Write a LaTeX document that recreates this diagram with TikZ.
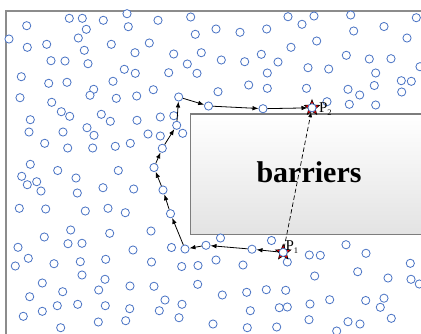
\documentclass[tikz,border=0pt]{standalone}
\usepackage{fontspec}
\setmainfont{Liberation Serif}
\usetikzlibrary{shapes.geometric,arrows.meta}
\definecolor{ptblue}{RGB}{72,114,196}
\definecolor{framegray}{RGB}{140,140,140}
\definecolor{wallgray}{RGB}{125,125,125}
\tikzset{
  pt/.style={circle, draw=ptblue, fill=white, line width=0.8pt, minimum size=8.2pt, inner sep=0pt},
  mark star/.style={star, star points=5, star point ratio=2.3, draw=black, fill=red, line width=0.6pt, minimum size=16pt, inner sep=0pt},
  hop/.style={-{Latex[length=6pt,width=4.6pt]}, line width=0.8pt, black},
  chord/.style={-{Latex[length=5pt,width=4pt]}, line width=0.7pt, black, dash pattern=on 4.5pt off 2.5pt},
  plabel/.style={inner sep=0pt, font=\fontsize{15}{15}\selectfont}
}
\begin{document}
\begin{tikzpicture}[x=1pt,y=-1pt]
\useasboundingbox (0,0) rectangle (421,333);
\fill[white] (0,0) rectangle (421,333);
% outer frame
\draw[framegray, line width=1.4pt] (6,340) -- (6,11) -- (430,11);
% obstacle block
\shade[top color=white, bottom color=black!11] (190.5,114) rectangle (430,234.5);
\draw[wallgray, line width=1.7pt] (430,114) -- (190.5,114) -- (190.5,234.5) -- (430,234.5);
\node[font=\bfseries\fontsize{30}{30}\selectfont, anchor=base, inner sep=0pt] (wall) at (309,182) {barriers};
% scattered sensor nodes
\foreach \x/\y [count=\i] in {
26.7/25.7, 69.3/18.3, 82.3/18.3, 103.3/20.3, 127/13.7, 158/20.3, 190.7/17, 86.3/29.3,
128.3/26.7, 195.3/34.3, 9/39, 27.3/47.3, 46.7/44.3, 78.3/38, 84.3/50.3, 111.3/44.3,
149.3/43, 135/52.7, 173.7/54, 201.3/52.7, 51/60.7, 65/61, 88/63.7, 124.3/69.3,
135.3/73.3, 168.7/72.7, 187.3/64, 197/73.3, 21.3/76.7, 48.7/83.3, 67/82.3, 113/81.3,
93.7/89.3, 90/95.3, 153.3/89.7, 20/97.7, 51.7/102.3, 116.3/98.3, 136.7/96, 61.3/111.7,
69.7/116.3, 101.3/114.3, 110.3/121.3, 30.3/119.7, 137/120.3, 160.3/117, 173.8/115.7, 182.7/133.3,
29/132, 63/132, 87/127.7, 94/135.3, 148/134, 160.3/136, 44.7/143.3, 67.7/148,
92.7/148, 115.3/146.3, 130.3/143.3, 30.3/164.3,
57.7/170.5, 118.3/170.5, 21.7/176.3, 36.7/181.7, 27.3/184.7, 41/191, 76/178, 77.3/193,
103/187.7, 133.7/189, 19.3/208.3, 45.7/209, 85.3/211, 108/208.3, 125.3/212.7, 70.7/230,
44.3/237, 68/243.7, 82/243.3, 109.7/233.3, 151/231, 18/247.3, 171.5/247.5, 133/250,
28.3/258.3, 15.3/266, 54/263.7, 80.3/261.7, 105.7/259.3, 151.5/262, 181.7/266.5, 198/265.5,
82/275, 42.3/283, 105/279.3, 197.7/284.3, 62.7/291.7, 98.7/290, 130/286, 154/286.3,
29.7/296.7, 165/300, 57.3/305.7, 77.7/304.3, 105.3/305.7, 42.3/311.3, 129.7/308.7, 159.3/310.7,
182/304.3, 23.3/316.3, 179/317.7, 98.3/322, 125.7/320.7, 60.7/327.7,
216/29, 240/32.3, 266.7/29, 288/16.7, 302/24.3, 314/16, 350.7/15, 353.7/31,
384/26.5, 416.3/17.7, 407/38, 316.7/41, 291/47.3, 221.3/60, 244.7/61.7, 261.3/54.3,
278/62, 267.3/73, 308/67.7, 328.7/69, 346.3/55.3, 369.3/59, 391/58.7, 375.7/73,
420/66.7, 218/91.7, 248.7/85, 267.3/88.3, 306.5/88.3, 348/89.3, 359.7/95, 374.3/85.5,
401.3/80.7, 411.3/81.3, 401.7/92, 327/101.7, 349.3/104.3, 375.7/105,
220.5/238, 216/260, 271.5/240.5, 287.3/262, 243/265, 309.3/255, 320.3/255.3, 346/244.7,
366/253.3, 410.3/263.3, 411/279.3, 419.3/284, 314.7/276, 357.7/271.7, 388/278, 222.3/295,
246.7/292.3, 266.3/289.7, 285.7/290.3, 250.3/310.7, 279.3/307.7, 287.3/307, 310/304, 329.7/299.7,
365.7/300.5, 384/298.2, 380.3/307.3, 391.3/318.3, 213/324, 247.3/327.7, 276.7/327, 309/319.7,
348/321.7, 360/324, 336.7/331}
  \node[pt] (c\i) at (\x,\y) {};
% route around the obstacle
\node[mark star] (s1) at (283.2,252.4) {};
\node[mark star] (s13) at (312,107.8) {};
\foreach \x/\y [count=\i] in {283.2/252.4, 252/249.2, 206/245.3, 185/249, 170.5/213.7, 163/190,
  154/167.5, 162.3/148.3, 176.7/125.3, 178.7/97, 208.5/106, 263/108.7, 312/107.8}
  \node[pt] (r\i) at (\x,\y) {};
\foreach \a/\b in {1/2, 2/3, 3/4, 4/5, 5/6, 6/7, 7/8, 8/9, 9/10, 10/11, 11/12, 12/13}
  \draw[hop] (r\a) -- (r\b);
\draw[chord] (r1) -- (r13);
\node[plabel, anchor=base west] (l2) at (318.8,112.8) {P\raisebox{-2.8pt}{\fontsize{8.5}{8.5}\selectfont 2}};
\node[plabel, anchor=base west] (l1) at (285.3,250.3) {P\raisebox{-2.8pt}{\fontsize{8.5}{8.5}\selectfont 1}};
\end{tikzpicture}
\end{document}
